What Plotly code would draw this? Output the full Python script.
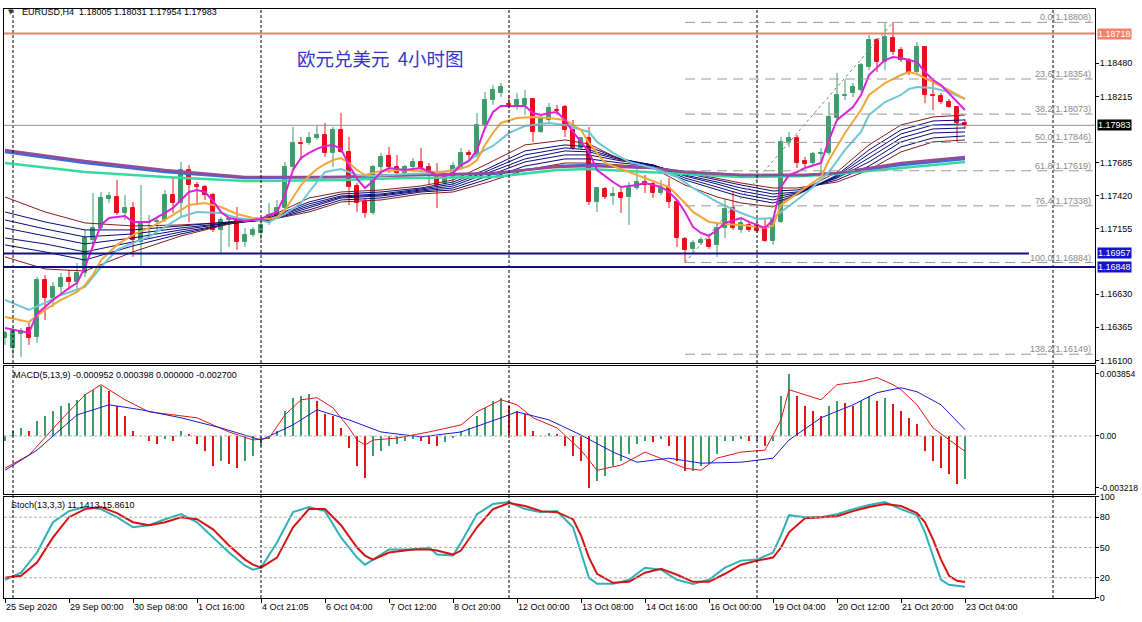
import plotly.graph_objects as go

# ---------------- data (EURUSD H4) ----------------
OPEN = [1.16280,1.16200,1.16312,1.16360,1.16288,1.16744,1.16600,1.16688,1.16760,1.16728,
        1.16800,1.17065,1.17161,1.17393,1.17409,1.17281,1.17321,1.17049,1.17201,1.17209,
        1.17225,1.17425,1.17361,1.17625,1.17505,1.17489,1.17425,1.17145,1.17225,1.17233,
        1.17049,1.17105,1.17121,1.17201,1.17249,1.17321,1.17649,1.17842,1.17842,1.17882,
        1.17906,1.17762,1.17946,1.17770,1.17497,1.17369,1.17281,1.17649,1.17738,1.17649,
        1.17601,1.17649,1.17690,1.17649,1.17593,1.17521,1.17569,1.17649,1.17762,1.17746,
        1.17986,1.18186,1.18242,1.18154,1.18146,1.18146,1.18194,1.17930,1.18026,1.18106,
        1.18130,1.17946,1.17802,1.17882,1.17369,1.17473,1.17417,1.17441,1.17409,1.17481,
        1.17529,1.17513,1.17441,1.17481,1.17369,1.17073,1.16993,1.17041,1.17065,1.17025,
        1.17161,1.17321,1.17145,1.17185,1.17185,1.17161,1.17057,1.17209,1.17850,1.17882,
        1.17698,1.17681,1.17754,1.17762,1.18042,1.18218,1.18242,1.18266,1.18450,1.18667,
        1.18490,1.18683,1.18587,1.18506,1.18410,1.18610,1.18226,1.18218,1.18170,1.18130,
        1.18005]
HIGH = [1.16336,1.16368,1.16360,1.16400,1.16768,1.16784,1.16728,1.16800,1.16824,1.16880,
        1.17145,1.17441,1.17449,1.17449,1.17545,1.17425,1.17369,1.17505,1.17265,1.17249,
        1.17465,1.17561,1.17690,1.17665,1.17529,1.17505,1.17441,1.17249,1.17249,1.17329,
        1.17161,1.17169,1.17225,1.17361,1.17385,1.17690,1.17970,1.17890,1.17930,1.17986,
        1.18002,1.17970,1.18082,1.17890,1.17521,1.17401,1.17665,1.17762,1.17810,1.17746,
        1.17665,1.17722,1.17802,1.17681,1.17681,1.17593,1.17690,1.17802,1.17786,1.18082,
        1.18250,1.18306,1.18322,1.18226,1.18242,1.18266,1.18202,1.18066,1.18162,1.18146,
        1.18146,1.18026,1.17890,1.17970,1.17489,1.17489,1.17489,1.17481,1.17529,1.17681,
        1.17585,1.17545,1.17545,1.17561,1.17385,1.17089,1.17065,1.17089,1.17089,1.17201,
        1.17393,1.17449,1.17241,1.17209,1.17209,1.17241,1.17241,1.17890,1.17930,1.17906,
        1.17730,1.17770,1.17802,1.18170,1.18402,1.18346,1.18322,1.18482,1.18707,1.18683,
        1.18803,1.18808,1.18610,1.18522,1.18651,1.18618,1.18362,1.18242,1.18194,1.18138,
        1.18031]
LOW = [1.16224,1.16143,1.16127,1.16224,1.16240,1.16424,1.16528,1.16640,1.16664,1.16664,
       1.16768,1.17009,1.17145,1.17361,1.17265,1.17225,1.16929,1.16840,1.17089,1.17145,
       1.17209,1.17281,1.17249,1.17209,1.17345,1.17385,1.17129,1.16961,1.17009,1.16985,
       1.17009,1.17089,1.17065,1.17185,1.17241,1.17305,1.17625,1.17706,1.17826,1.17866,
       1.17730,1.17649,1.17762,1.17345,1.17289,1.17241,1.17265,1.17569,1.17601,1.17569,
       1.17569,1.17609,1.17609,1.17505,1.17321,1.17505,1.17505,1.17625,1.17706,1.17730,
       1.17970,1.18146,1.18210,1.18122,1.18106,1.18066,1.17850,1.17922,1.18010,1.18066,
       1.17890,1.17786,1.17786,1.17345,1.17289,1.17393,1.17345,1.17281,1.17185,1.17465,
       1.17441,1.17401,1.17425,1.17321,1.17009,1.16884,1.16961,1.17025,1.16993,1.16929,
       1.17081,1.17145,1.17121,1.17129,1.17121,1.17049,1.17025,1.17201,1.17810,1.17641,
       1.17649,1.17665,1.17601,1.17746,1.18010,1.18186,1.18210,1.18250,1.18426,1.18410,
       1.18426,1.18546,1.18490,1.18386,1.18402,1.18162,1.18106,1.18154,1.18122,1.17850,
       1.17954]
CLOSE = [1.16320,1.16336,1.16336,1.16280,1.16744,1.16600,1.16688,1.16760,1.16728,1.16800,
         1.17081,1.17161,1.17401,1.17417,1.17281,1.17321,1.17065,1.17201,1.17209,1.17217,
         1.17425,1.17361,1.17625,1.17505,1.17489,1.17425,1.17145,1.17225,1.17233,1.17049,
         1.17105,1.17145,1.17185,1.17265,1.17321,1.17649,1.17842,1.17834,1.17882,1.17906,
         1.17762,1.17946,1.17770,1.17489,1.17361,1.17281,1.17649,1.17730,1.17649,1.17601,
         1.17649,1.17690,1.17641,1.17593,1.17505,1.17569,1.17657,1.17762,1.17746,1.17986,
         1.18186,1.18266,1.18290,1.18146,1.18186,1.18194,1.17930,1.18042,1.18122,1.18100,
         1.17946,1.17802,1.17882,1.17369,1.17481,1.17409,1.17433,1.17401,1.17481,1.17529,
         1.17505,1.17441,1.17481,1.17369,1.17081,1.16985,1.17041,1.17065,1.17009,1.17161,
         1.17313,1.17161,1.17201,1.17145,1.17137,1.17057,1.17225,1.17850,1.17882,1.17681,
         1.17673,1.17754,1.17762,1.18050,1.18226,1.18226,1.18290,1.18466,1.18667,1.18490,
         1.18691,1.18570,1.18506,1.18410,1.18610,1.18226,1.18218,1.18170,1.18130,1.18002,
         1.17983]

TICK_IDX = [0, 8, 16, 24, 32, 40, 48, 56, 64, 72, 80, 88, 96, 104, 112, 120]
TICK_TEXT = ["25 Sep 2020", "29 Sep 00:00", "30 Sep 08:00", "1 Oct 16:00", "4 Oct 21:05",
             "6 Oct 04:00", "7 Oct 12:00", "8 Oct 20:00", "12 Oct 00:00", "13 Oct 08:00",
             "14 Oct 16:00", "16 Oct 00:00", "19 Oct 04:00", "20 Oct 12:00", "21 Oct 20:00",
             "23 Oct 04:00"]
SEPARATOR_IDX = [1, 32, 63, 94, 131]

PRICE_TICKS = [1.18480, 1.18215, 1.17685, 1.17420, 1.17155, 1.16630, 1.16365, 1.16100]

# fast moving averages
MAG_IDX = [0,3,4,6,8,9,10,11,12,13,15,16,18,20,21,22,23,24,25,26,27,28,30,32,33,34,35,36,37,38,
           39,40,41,42,43,44,45,46,47,48,50,52,54,55,56,57,58,59,60,61,62,63,65,66,67,68,69,70,71,73,
           74,76,77,79,80,82,83,84,85,86,87,88,89,90,92,93,95,96,97,98,99,100,102,103,104,106,107,108,109,110,
           111,112,113,114,115,116,117,118,119,120]
MAG = [1.16360,1.16320,1.16472,1.16584,1.16680,1.16720,1.16848,1.17025,1.17185,1.17241,
       1.17257,1.17209,1.17209,1.17281,1.17321,1.17385,1.17449,1.17465,1.17449,1.17377,
       1.17289,1.17241,1.17217,1.17233,1.17265,1.17289,1.17425,1.17625,1.17721,1.17762,
       1.17794,1.17818,1.17826,1.17794,1.17665,1.17553,1.17481,1.17537,1.17609,1.17641,
       1.17625,1.17641,1.17585,1.17577,1.17601,1.17665,1.17697,1.17786,1.17962,1.18090,
       1.18138,1.18138,1.18138,1.18082,1.18066,1.18082,1.18090,1.18026,1.17930,1.17770,
       1.17625,1.17529,1.17489,1.17505,1.17521,1.17489,1.17449,1.17385,1.17289,1.17169,
       1.17121,1.17097,1.17145,1.17201,1.17241,1.17209,1.17161,1.17225,1.17489,1.17585,
       1.17609,1.17641,1.17681,1.17866,1.18026,1.18130,1.18226,1.18386,1.18450,1.18506,
       1.18530,1.18522,1.18506,1.18490,1.18410,1.18346,1.18306,1.18242,1.18170,1.18106]

ORANGE_IDX = [0,3,5,7,9,10,11,12,14,16,18,20,22,23,25,27,29,31,33,34,35,36,37,38,39,40,41,42,43,44,
              45,46,47,50,54,56,58,59,60,61,62,64,66,68,70,72,73,75,78,80,83,85,86,88,90,92,95,96,97,100,
              102,103,105,107,108,110,112,113,114,116,118,120]
ORANGE = [1.16448,1.16408,1.16504,1.16584,1.16648,1.16704,1.16784,1.16904,1.17025,1.17105,
          1.17161,1.17225,1.17305,1.17345,1.17361,1.17329,1.17273,1.17241,1.17233,1.17249,
          1.17305,1.17409,1.17505,1.17577,1.17633,1.17673,1.17705,1.17721,1.17681,1.17625,
          1.17585,1.17601,1.17617,1.17625,1.17609,1.17617,1.17657,1.17705,1.17826,1.17922,
          1.18002,1.18042,1.18050,1.18042,1.18026,1.17946,1.17842,1.17681,1.17609,1.17561,
          1.17489,1.17361,1.17289,1.17209,1.17193,1.17185,1.17161,1.17177,1.17345,1.17481,
          1.17569,1.17705,1.17922,1.18106,1.18226,1.18322,1.18386,1.18410,1.18394,1.18330,
          1.18266,1.18194]

CYAN_IDX = [0,3,5,7,10,12,14,16,18,20,22,24,27,29,31,33,35,37,38,40,42,44,46,50,54,56,58,60,61,63,
            65,68,70,73,74,76,78,81,84,86,89,92,94,96,97,99,101,103,105,107,108,110,112,113,114,116,118,120]
CYAN = [1.16584,1.16504,1.16560,1.16624,1.16688,1.16848,1.16985,1.17041,1.17089,1.17169,
        1.17249,1.17289,1.17281,1.17241,1.17225,1.17209,1.17273,1.17361,1.17449,1.17609,
        1.17633,1.17585,1.17577,1.17593,1.17601,1.17625,1.17705,1.17786,1.17818,1.17922,
        1.17978,1.18002,1.17986,1.17930,1.17850,1.17762,1.17690,1.17641,1.17569,1.17481,
        1.17369,1.17281,1.17233,1.17241,1.17289,1.17385,1.17489,1.17609,1.17786,1.17930,
        1.18066,1.18170,1.18226,1.18274,1.18290,1.18282,1.18250,1.18194]

# slow ribbon (7 thin averages)
RIB_IDX = [0,5,10,16,22,28,33,38,42,47,52,56,60,65,70,73,77,81,85,89,92,96,99,104,108,112,116,120]
RIB_A = [1.17409,1.17289,1.17201,1.17177,1.17185,1.17209,1.17225,1.17289,1.17369,1.17385,1.17433,1.17449,1.17521,1.17625,
         1.17681,1.17681,1.17665,1.17649,1.17609,1.17561,1.17521,1.17481,1.17481,1.17529,1.17625,1.17770,1.17850,1.17866]
RIB_B = [1.17289,1.17209,1.17145,1.17145,1.17177,1.17209,1.17225,1.17305,1.17385,1.17401,1.17449,1.17465,1.17545,1.17657,
         1.17714,1.17714,1.17681,1.17657,1.17601,1.17545,1.17505,1.17457,1.17465,1.17545,1.17657,1.17810,1.17882,1.17898]
RIB_C = [1.17225,1.17153,1.17089,1.17113,1.17161,1.17201,1.17225,1.17321,1.17401,1.17417,1.17457,1.17481,1.17569,1.17690,
         1.17746,1.17746,1.17698,1.17665,1.17585,1.17529,1.17481,1.17433,1.17449,1.17561,1.17690,1.17850,1.17922,1.17930]
RIB_D = [1.17161,1.17097,1.17033,1.17081,1.17145,1.17201,1.17233,1.17337,1.17409,1.17425,1.17465,1.17497,1.17593,1.17714,
         1.17778,1.17770,1.17706,1.17665,1.17577,1.17513,1.17457,1.17409,1.17441,1.17569,1.17722,1.17882,1.17954,1.17962]
RIB_E = [1.17081,1.17033,1.16969,1.17049,1.17129,1.17193,1.17233,1.17353,1.17417,1.17433,1.17473,1.17513,1.17609,1.17746,
         1.17802,1.17786,1.17714,1.17665,1.17561,1.17489,1.17433,1.17385,1.17433,1.17577,1.17754,1.17914,1.17986,1.17994]
RIB_F = [1.17025,1.16969,1.16904,1.17017,1.17113,1.17193,1.17241,1.17369,1.17433,1.17449,1.17481,1.17529,1.17625,1.17778,
         1.17826,1.17810,1.17714,1.17657,1.17545,1.17465,1.17409,1.17361,1.17425,1.17585,1.17786,1.17946,1.18018,1.18026]
RIB_G = [1.16929,1.16832,1.16816,1.16969,1.17097,1.17193,1.17249,1.17401,1.17449,1.17465,1.17497,1.17545,1.17665,1.17826,
         1.17866,1.17834,1.17706,1.17641,1.17505,1.17409,1.17361,1.17329,1.17441,1.17609,1.17826,1.17986,1.18050,1.18066]

# long averages
LONG_IDX = [0,10,20,30,42,50,61,69,73,81,85,92,100,104,112,120]
LONG_PURPLE = [1.17786,1.17698,1.17625,1.17569,1.17569,1.17585,1.17601,1.17649,1.17657,1.17641,1.17609,1.17585,1.17585,1.17601,1.17681,1.17730]
LONG_BLUE = [1.17770,1.17681,1.17609,1.17561,1.17569,1.17585,1.17593,1.17657,1.17665,1.17641,1.17609,1.17585,1.17585,1.17601,1.17665,1.17714]
LONG_GREEN = [1.17681,1.17609,1.17569,1.17537,1.17545,1.17561,1.17569,1.17625,1.17633,1.17609,1.17593,1.17569,1.17577,1.17593,1.17641,1.17690]

# horizontal levels
RESIST = 1.18718
BID = 1.17983
SUPPORT_1 = 1.16957
SUPPORT_1_END = 128
SUPPORT_2 = 1.16848

# Fibonacci retracement (from low bar 85 to high bar 111)
FIB_START = 85
FIB_END = 111
FIB_LEVELS = ["0.0", "23.6", "38.2", "50.0", "61.8", "76.4", "100.0", "138.2"]
FIB_PRICES = [1.18808, 1.18354, 1.18073, 1.17846, 1.17619, 1.17338, 1.16884, 1.16149]

# MACD(5,13,9)
MACD_HIST = [-0.00031,0.00031,0.00050,0.00031,0.00093,0.00124,0.00155,0.00187,0.00205,0.00224,
             0.00261,0.00286,0.00311,0.00280,0.00187,0.00124,0.00031,0.00000,-0.00031,-0.00050,
             -0.00019,-0.00031,0.00031,0.00012,-0.00050,-0.00093,-0.00187,-0.00155,-0.00174,-0.00199,
             -0.00155,-0.00124,-0.00062,-0.00019,0.00031,0.00155,0.00236,0.00249,0.00261,0.00218,
             0.00137,0.00124,0.00050,-0.00075,-0.00187,-0.00261,-0.00124,-0.00093,-0.00062,-0.00050,
             -0.00031,-0.00019,-0.00031,-0.00050,-0.00062,-0.00037,-0.00012,0.00031,0.00050,0.00124,
             0.00174,0.00218,0.00236,0.00187,0.00155,0.00137,0.00031,0.00000,0.00019,0.00012,
             -0.00062,-0.00124,-0.00155,-0.00322,-0.00280,-0.00249,-0.00187,-0.00155,-0.00112,-0.00050,
             -0.00031,-0.00037,-0.00019,-0.00062,-0.00155,-0.00218,-0.00218,-0.00187,-0.00174,-0.00112,
             -0.00031,-0.00031,-0.00019,-0.00031,-0.00031,-0.00062,-0.00031,0.00249,0.00385,0.00249,
             0.00187,0.00155,0.00124,0.00187,0.00218,0.00205,0.00187,0.00218,0.00249,0.00218,
             0.00236,0.00199,0.00155,0.00112,0.00075,-0.00093,-0.00155,-0.00199,-0.00236,-0.00299,
             -0.00270]
MACD_RED_IDX = [0,3,7,10,12,15,18,21,24,28,31,33,35,37,39,41,43,44,45,46,49,53,57,59,62,64,66,69,72,74,
                77,80,82,85,87,89,92,95,97,98,100,102,104,107,109,111,112,114,116,118,120]
MACD_RED = [-0.00200,-0.00119,0.00100,0.00256,0.00319,0.00225,0.00150,0.00131,0.00113,0.00025,
            -0.00025,-0.00013,0.00131,0.00225,0.00238,0.00175,0.00050,-0.00025,-0.00056,-0.00025,
            -0.00013,0.00025,0.00069,0.00150,0.00225,0.00194,0.00113,0.00050,-0.00088,-0.00213,
            -0.00181,-0.00100,-0.00138,-0.00200,-0.00213,-0.00138,-0.00100,-0.00088,0.00100,0.00288,
            0.00256,0.00225,0.00319,0.00338,0.00363,0.00319,0.00288,0.00194,0.00050,-0.00025,-0.000952]
MACD_BLUE_IDX = [0,4,9,13,17,22,27,32,36,39,43,47,52,57,62,64,68,72,76,79,83,87,92,96,98,102,106,109,112,114,117,120]
MACD_BLUE = [-0.00213,-0.00088,0.00131,0.00194,0.00163,0.00113,0.00050,-0.00025,0.00069,0.00163,
             0.00100,0.00025,-0.00006,0.00025,0.00113,0.00150,0.00100,0.00006,-0.00100,-0.00163,
             -0.00138,-0.00169,-0.00163,-0.00138,-0.00025,0.00113,0.00194,0.00269,0.00300,0.00275,
             0.00194,0.000398]
MACD_TICKS = [0.003854, 0.0, -0.003218]
MACD_TICK_TEXT = ["0.003854", "0.00", "-0.003218"]

# Stochastic(13,3,3)
STO_IDX = [0,2,4,6,8,10,12,14,16,18,20,22,24,26,28,30,31,32,34,36,38,40,42,44,45,46,48,51,53,54,
           56,57,59,61,63,65,67,69,71,72,73,74,76,78,80,82,84,86,88,90,92,94,96,97,98,100,102,104,106,108,
           110,112,114,115,116,117,118,119,120]
STO_K = [18,25,45,75,86,90,88,80,70,72,78,83,75,60,45,32,28,30,55,85,
         90,86,60,40,33,38,48,48,50,43,42,55,83,93,95,88,85,86,70,45,
         20,14,14,18,30,28,18,14,18,30,37,38,45,62,82,80,80,83,88,92,
         95,88,82,65,42,18,13,12,11.1413]
STO_D = [20,22,35,60,80,88,90,84,75,72,75,80,78,68,52,38,33,30,40,70,
         88,88,72,50,42,38,45,48,48,47,43,47,70,88,94,91,86,85,78,62,
         40,24,15,16,25,29,23,16,16,24,33,37,40,50,65,79,80,81,86,90,
         93,91,84,75,58,38,22,17,15.8610]
STO_LEVELS = [80, 50, 20]

# ---------------- figure ----------------
N = len(CLOSE)
XR = [-0.125, 136.25]
FONT = "Liberation Sans, Arial, sans-serif"
FS = 9
GREEN = "#3d9e6c"
RED = "#e8101a"

fig = go.Figure()

up = [i for i in range(N) if CLOSE[i] >= OPEN[i]]
dn = [i for i in range(N) if CLOSE[i] < OPEN[i]]

def wick_xy(idx):
    xs, ys = [], []
    for i in idx:
        xs += [i, i, None]
        ys += [LOW[i], HIGH[i], None]
    return xs, ys

for idx, col in ((up, GREEN), (dn, RED)):
    wx, wy = wick_xy(idx)
    fig.add_trace(go.Scatter(x=wx, y=wy, mode="lines", line=dict(color=col, width=1),
                             hoverinfo="skip", xaxis="x", yaxis="y"))
    fig.add_trace(go.Bar(x=idx, base=[min(OPEN[i], CLOSE[i]) for i in idx],
                         y=[abs(CLOSE[i] - OPEN[i]) for i in idx], width=0.6,
                         marker=dict(color=col, line=dict(color=col, width=1)),
                         xaxis="x", yaxis="y"))

RIB = [(RIB_A, "#8b1a1a"), (RIB_B, "#0a0a78"), (RIB_C, "#0a0a78"), (RIB_D, "#0a0a78"),
       (RIB_E, "#0a0a78"), (RIB_F, "#0a0a78"), (RIB_G, "#8b1a1a")]
for vals, col in RIB:
    fig.add_trace(go.Scatter(x=RIB_IDX, y=vals, mode="lines", line=dict(color=col, width=1),
                             xaxis="x", yaxis="y"))
for vals, col in ((LONG_GREEN, "#36d9a0"), (LONG_BLUE, "#3a6bd8"), (LONG_PURPLE, "#9a4a92")):
    fig.add_trace(go.Scatter(x=LONG_IDX, y=vals, mode="lines", line=dict(color=col, width=2.5),
                             xaxis="x", yaxis="y"))
for ix, vals, col in ((CYAN_IDX, CYAN, "#6fc6d4"), (ORANGE_IDX, ORANGE, "#f2a63a"), (MAG_IDX, MAG, "#dc22d8")):
    fig.add_trace(go.Scatter(x=ix, y=vals, mode="lines", line=dict(color=col, width=2),
                             xaxis="x", yaxis="y"))

fig.add_trace(go.Scatter(x=[FIB_START, FIB_END], y=[FIB_PRICES[6], FIB_PRICES[0]], mode="lines",
                         line=dict(color="#808080", width=1, dash="dot"), xaxis="x", yaxis="y"))

hist_col = [GREEN if (i == 0 or MACD_HIST[i] >= MACD_HIST[i - 1]) else RED for i in range(N)]
fig.add_trace(go.Bar(x=list(range(N)), y=MACD_HIST, width=0.15,
                     marker=dict(color=hist_col, line=dict(width=0)), xaxis="x2", yaxis="y2"))
fig.add_trace(go.Scatter(x=MACD_RED_IDX, y=MACD_RED, mode="lines", line=dict(color="#e01818", width=1),
                         xaxis="x2", yaxis="y2"))
fig.add_trace(go.Scatter(x=MACD_BLUE_IDX, y=MACD_BLUE, mode="lines", line=dict(color="#1a1ad0", width=1),
                         xaxis="x2", yaxis="y2"))

fig.add_trace(go.Scatter(x=STO_IDX, y=STO_K, mode="lines", line=dict(color="#2fb0b4", width=2),
                         xaxis="x3", yaxis="y3"))
fig.add_trace(go.Scatter(x=STO_IDX, y=STO_D, mode="lines", line=dict(color="#d41414", width=2),
                         xaxis="x3", yaxis="y3"))

shapes = []
for s in SEPARATOR_IDX:
    shapes.append(dict(type="line", xref="x", yref="paper", x0=s, x1=s, y0=0, y1=1,
                       line=dict(color="black", width=1, dash="3px,2px")))
shapes.append(dict(type="line", xref="x domain", yref="y", x0=0, x1=1, y0=RESIST, y1=RESIST,
                   line=dict(color="#e8806a", width=2)))
shapes.append(dict(type="line", xref="x domain", yref="y", x0=0, x1=1, y0=BID, y1=BID,
                   line=dict(color="#8a9090", width=1)))
shapes.append(dict(type="line", xref="x", yref="y", x0=XR[0], x1=SUPPORT_1_END, y0=SUPPORT_1, y1=SUPPORT_1,
                   line=dict(color="#10107e", width=2)))
shapes.append(dict(type="line", xref="x domain", yref="y", x0=0, x1=1, y0=SUPPORT_2, y1=SUPPORT_2,
                   line=dict(color="#10107e", width=2)))
for p in FIB_PRICES:
    shapes.append(dict(type="line", xref="x", yref="y", x0=FIB_START, x1=XR[1] - 0.3, y0=p, y1=p,
                       line=dict(color="#9a9a9a", width=1, dash="10px,6px")))
shapes.append(dict(type="line", xref="x2 domain", yref="y2", x0=0, x1=1, y0=0, y1=0,
                   line=dict(color="#b0b0b0", width=1, dash="3px,2px")))
for lv in STO_LEVELS:
    shapes.append(dict(type="line", xref="x3 domain", yref="y3", x0=0, x1=1, y0=lv, y1=lv,
                       line=dict(color="#b0b0b0", width=1, dash="3px,2px")))

ann = []
for lv, p in zip(FIB_LEVELS, FIB_PRICES):
    ann.append(dict(xref="x domain", yref="y", x=0.998, y=p, text=f"{lv}({p:.5f})", showarrow=False,
                    xanchor="right", yanchor="bottom", yshift=-2,
                    font=dict(family=FONT, size=FS, color="#8a8a8a")))
for p, bg in ((RESIST, "#f0836a"), (BID, "#000000"), (SUPPORT_1, "#1414c8"), (SUPPORT_2, "#1414c8")):
    ann.append(dict(xref="paper", yref="y", x=1, y=p, xshift=2, text=f"{p:.5f}", showarrow=False,
                    xanchor="left", yanchor="middle", bgcolor=bg, borderpad=0,
                    font=dict(family=FONT, size=FS, color="white")))
ann.append(dict(xref="paper", yref="paper", x=0.002, y=0.995, text="▼", showarrow=False,
                xanchor="left", yanchor="middle", font=dict(family="DejaVu Sans", size=7, color="#333333")))
ann.append(dict(xref="paper", yref="paper", x=0.0145, y=0.995,
                text="EURUSD,H4  1.18005 1.18031 1.17954 1.17983", showarrow=False,
                xanchor="left", yanchor="middle", font=dict(family=FONT, size=FS, color="black")))
ann.append(dict(xref="paper", yref="paper", x=0.345, y=0.917, text="欧元兑美元  4小时图", showarrow=False,
                xanchor="center", yanchor="middle",
                font=dict(family="Noto Sans CJK SC", size=18.5, color="#3636cc")))
ann.append(dict(xref="paper", yref="paper", x=0.006, y=0.3786,
                text="MACD(5,13,9) -0.000952 0.000398 0.000000 -0.002700", showarrow=False,
                xanchor="left", yanchor="middle", font=dict(family=FONT, size=FS, color="black")))
ann.append(dict(xref="paper", yref="paper", x=0.005, y=0.158,
                text="Stoch(13,3,3) 11.1413 15.8610", showarrow=False,
                xanchor="left", yanchor="middle", font=dict(family=FONT, size=FS, color="black")))

axis_common = dict(showgrid=False, zeroline=False, showline=True, mirror=True, linecolor="black",
                   linewidth=1, automargin=False)
ytick = dict(ticks="outside", ticklen=3, tickcolor="black", ticklabelstandoff=-1)
fig.update_layout(
    width=1142, height=622,
    margin=dict(l=4, r=47, t=9, b=24),
    paper_bgcolor="white", plot_bgcolor="white",
    showlegend=False, barmode="overlay", bargap=0,
    font=dict(family=FONT, size=FS, color="black"),
    xaxis=dict(domain=[0, 1], anchor="y", range=XR, showticklabels=False, ticks="", **axis_common),
    xaxis2=dict(domain=[0, 1], anchor="y2", range=XR, matches="x", showticklabels=False, ticks="", **axis_common),
    xaxis3=dict(domain=[0, 1], anchor="y3", range=XR, matches="x", tickvals=TICK_IDX, ticktext=TICK_TEXT,
                ticks="outside", ticklen=4, tickcolor="black", ticklabelposition="outside right",
                tickangle=0, tickfont=dict(family=FONT, size=FS), **axis_common),
    yaxis=dict(domain=[0.399, 1], anchor="x", side="right", range=[1.16079, 1.18915],
               tickvals=PRICE_TICKS, ticktext=[f"{v:.5f}" for v in PRICE_TICKS],
               tickfont=dict(family=FONT, size=FS), **ytick, **axis_common),
    yaxis2=dict(domain=[0.1766, 0.3939], anchor="x2", side="right", range=[-0.003605, 0.004351],
                tickvals=MACD_TICKS, ticktext=MACD_TICK_TEXT,
                tickfont=dict(family=FONT, size=8.5), **ytick, **axis_common),
    yaxis3=dict(domain=[0, 0.1715], anchor="x3", side="right", range=[0, 100],
                tickvals=[100, 80, 50, 20, 0], ticktext=["100", "80", "50", "20", "0"],
                tickfont=dict(family=FONT, size=FS), **ytick, **axis_common),
    shapes=shapes, annotations=ann,
)

fig.write_html("out.html", config={"displayModeBar": False},
               post_script="document.body.style.margin='0';document.body.style.padding='0';")
